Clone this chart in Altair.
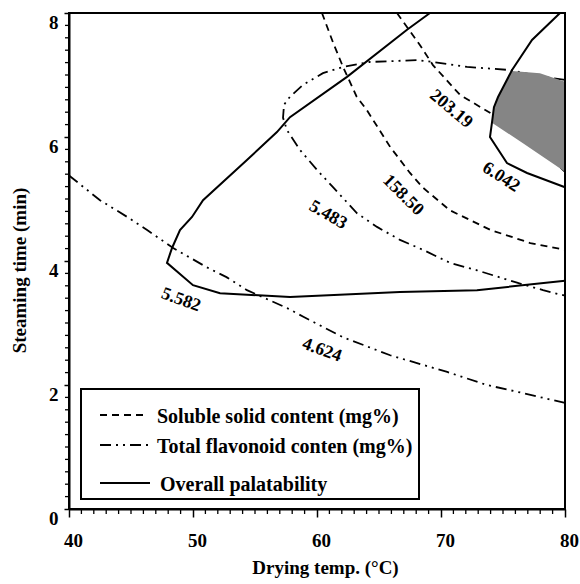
import altair as alt
import pandas as pd

# ---------------- data ----------------
ss_203_x = [66.45, 68.31, 69.35, 71.53, 73.95, 77.2, 80.0]
ss_203_y = [8.0, 7.48, 7.16, 6.68, 6.39, 5.95, 5.44]
ss_158_x = [60.4, 61.3, 62.1, 63.2, 64.0, 65.9, 67.5, 68.5, 70.7, 74.0, 77.2, 80.0]
ss_158_y = [8.0, 7.52, 7.13, 6.65, 6.44, 5.84, 5.42, 5.19, 4.82, 4.50, 4.29, 4.18]

tf_4624_x = [40.0, 42.5, 44.7, 46.3, 48.4, 51.1, 52.7, 54.35, 57.6, 58.9, 62.1, 65.9, 70.5, 73.7, 76.6, 80.0]
tf_4624_y = [5.38, 4.98, 4.71, 4.50, 4.21, 3.90, 3.74, 3.53, 3.24, 3.10, 2.77, 2.48, 2.21, 2.00, 1.87, 1.71]
tf_5483_x = [80.0, 78.23, 75.56, 72.10, 69.35, 68.06, 64.27, 62.10, 60.48, 58.87, 57.82, 57.34, 57.26,
             57.58, 58.63, 60.0, 61.29, 63.23, 64.84, 66.69, 68.55, 70.73, 72.90, 76.13, 78.23, 80.0]
tf_5483_y = [6.92, 6.97, 7.08, 7.13, 7.21, 7.24, 7.21, 7.13, 7.03, 6.84, 6.65, 6.52, 6.31,
             6.11, 5.79, 5.47, 5.19, 4.77, 4.55, 4.34, 4.18, 3.97, 3.85, 3.65, 3.53, 3.44]

op_5582_x = [69.11, 67.26, 62.42, 57.82, 56.77, 54.35, 50.81, 49.92, 48.95, 48.31, 47.90,
             50.0, 52.18, 57.82, 66.69, 72.90, 80.0]
op_5582_y = [8.0, 7.73, 6.97, 6.32, 6.08, 5.63, 4.98, 4.71, 4.50, 4.21, 3.97,
             3.61, 3.48, 3.42, 3.50, 3.53, 3.68]
op_6042_x = [79.60, 77.34, 75.73, 74.60, 74.27, 74.11, 73.95, 75.32, 76.94, 80.0]
op_6042_y = [8.0, 7.565, 7.08, 6.645, 6.48, 6.23, 6.0, 5.58, 5.42, 5.19]

opt_y = [5.44, 5.90, 6.23, 6.48, 6.65, 6.89, 7.03, 7.065]
opt_xl = [80.0, 76.61, 74.11, 74.27, 74.60, 75.24, 75.64, 75.73]
opt_xr = [80.0, 80.0, 80.0, 80.0, 80.0, 80.0, 77.98, 75.73]

lab_text = ["203.19", "158.50", "6.042", "5.483", "5.582", "4.624"]
lab_x = [70.81, 66.94, 74.84, 60.89, 49.03, 60.40]
lab_y = [6.45, 5.06, 5.35, 4.74, 3.37, 2.56]
lab_angle = [40, 45, 33, 30, 20, 20]

x_major = [40, 50, 60, 70, 80]
y_major = [0, 2, 4, 6, 8]
x_minor = [v for v in range(41, 80) if v % 10 != 0]
y_minor = [round(i * 0.2, 1) for i in range(1, 40) if i % 10 != 0]

legend_labels = ["Soluble solid content (mg%)", "Total flavonoid conten (mg%)", "Overall palatability"]

# ---------------- chart ----------------
FONT = "Liberation Serif"
W, H = 496, 496
DASH = [7, 5]
DASHDOT = [11, 5, 2, 5, 2, 5]

xscale = alt.Scale(domain=[40, 80], nice=False, zero=False)
yscale = alt.Scale(domain=[0, 8], nice=False, zero=False)

x_axis = alt.Axis(values=x_major, format="d", title="Drying temp. (°C)", grid=False,
                  tickSize=8, tickWidth=1.5, tickColor="black",
                  domainColor="black", domainWidth=2,
                  labelFont=FONT, labelFontWeight="bold", labelFontSize=19, labelColor="black",
                  labelPadding=23, labelBaseline="middle", labelOffset=4, labelFlush=False, labelOverlap=False,
                  titleFont=FONT, titleFontWeight="bold", titleFontSize=19, titleColor="black",
                  titleX=256, titleY=58, titleBaseline="middle", titleAlign="center")
y_axis = alt.Axis(values=y_major, format="d", title="Steaming time (min)", grid=False,
                  tickSize=5, tickWidth=1.5, tickColor="black",
                  domainColor="black", domainWidth=2,
                  labelFont=FONT, labelFontWeight="bold", labelFontSize=19, labelColor="black",
                  labelPadding=6, labelBaseline="middle", labelOffset=9, labelFlush=False, labelOverlap=False,
                  titleFont=FONT, titleFontWeight="bold", titleFontSize=19, titleColor="black",
                  titleX=-50, titleY=257, titleBaseline="middle", titleAlign="center")


def X(field):
    return alt.X(f"{field}:Q", scale=xscale, axis=x_axis)


def Y(field):
    return alt.Y(f"{field}:Q", scale=yscale, axis=y_axis)


def frame(name, xs, ys):
    return pd.DataFrame({"series": name, "x": xs, "y": ys, "order": list(range(len(xs)))})


def contour_layer(df, dash, width):
    if dash:
        mark = alt.Chart(df).mark_line(color="black", strokeWidth=width, strokeDash=dash)
    else:
        mark = alt.Chart(df).mark_line(color="black", strokeWidth=width)
    return mark.encode(x=X("x"), y=Y("y"), detail="series:N", order=alt.Order("order:Q"))


ss_df = pd.concat([frame("203.19", ss_203_x, ss_203_y), frame("158.50", ss_158_x, ss_158_y)])
tf_df = pd.concat([frame("4.624", tf_4624_x, tf_4624_y), frame("5.483", tf_5483_x, tf_5483_y)])
op_df = pd.concat([frame("5.582", op_5582_x, op_5582_y), frame("6.042", op_6042_x, op_6042_y)])

opt_df = pd.DataFrame({"y": opt_y, "xl": opt_xl, "xr": opt_xr})
shade = alt.Chart(opt_df).mark_area(orient="horizontal", color="#858585", opacity=1).encode(
    y=Y("y"), x=X("xl"), x2="xr:Q")

lab_df = pd.DataFrame({"t": lab_text, "x": lab_x, "y": lab_y, "a": lab_angle})
labels = alt.Chart(lab_df).mark_text(font=FONT, fontWeight="bold", fontSize=18, color="black",
                                     align="center", baseline="middle").encode(
    x=X("x"), y=Y("y"), text="t:N", angle=alt.Angle("a:Q", scale=None))

xminor = alt.Chart(pd.DataFrame({"xm": x_minor})).mark_rule(color="black", strokeWidth=1.3).encode(
    x=X("xm"), y=alt.value(H), y2=alt.value(H + 5))
yminor = alt.Chart(pd.DataFrame({"ym": y_minor})).mark_rule(color="black", strokeWidth=1.3).encode(
    y=Y("ym"), x=alt.value(-4), x2=alt.value(0))

one = pd.DataFrame({"k": [0]})
plot_frame = alt.Chart(one).mark_rect(fill="transparent", stroke="black", strokeWidth=2).encode(
    x=alt.value(0), x2=alt.value(W), y=alt.value(0), y2=alt.value(H))
leg_box = alt.Chart(one).mark_rect(fill="white", stroke="black", strokeWidth=2).encode(
    x=alt.value(12), x2=alt.value(350), y=alt.value(376), y2=alt.value(486))

leg_rows = [(402, DASH, 79), (432, DASHDOT, 81), (470, None, 81)]
leg_text_x = [88, 88, 91]
legend_layers = []
for i, (yy, dash, xe) in enumerate(leg_rows):
    kw = dict(color="black", strokeWidth=1.8)
    if dash:
        kw["strokeDash"] = dash
    legend_layers.append(alt.Chart(one).mark_rule(**kw).encode(
        x=alt.value(31), x2=alt.value(xe), y=alt.value(yy)))
    legend_layers.append(alt.Chart(pd.DataFrame({"t": [legend_labels[i]]})).mark_text(
        font=FONT, fontWeight="bold", fontSize=20, color="black", align="left", baseline="middle").encode(
        x=alt.value(leg_text_x[i]), y=alt.value(yy + 2), text="t:N"))

chart = alt.layer(
    contour_layer(ss_df, DASH, 1.8),
    contour_layer(tf_df, DASHDOT, 1.8),
    shade,
    contour_layer(op_df, None, 2.0),
    labels,
    xminor,
    yminor,
    plot_frame,
    leg_box,
    *legend_layers,
).properties(
    width=W, height=H,
    padding={"left": 69, "top": 13, "right": 15, "bottom": 75},
    autosize=alt.AutoSizeParams(type="none"),
).configure_view(
    stroke=None
).configure(background="white")

chart.save("out.html", embed_options={"renderer": "svg", "actions": False})
